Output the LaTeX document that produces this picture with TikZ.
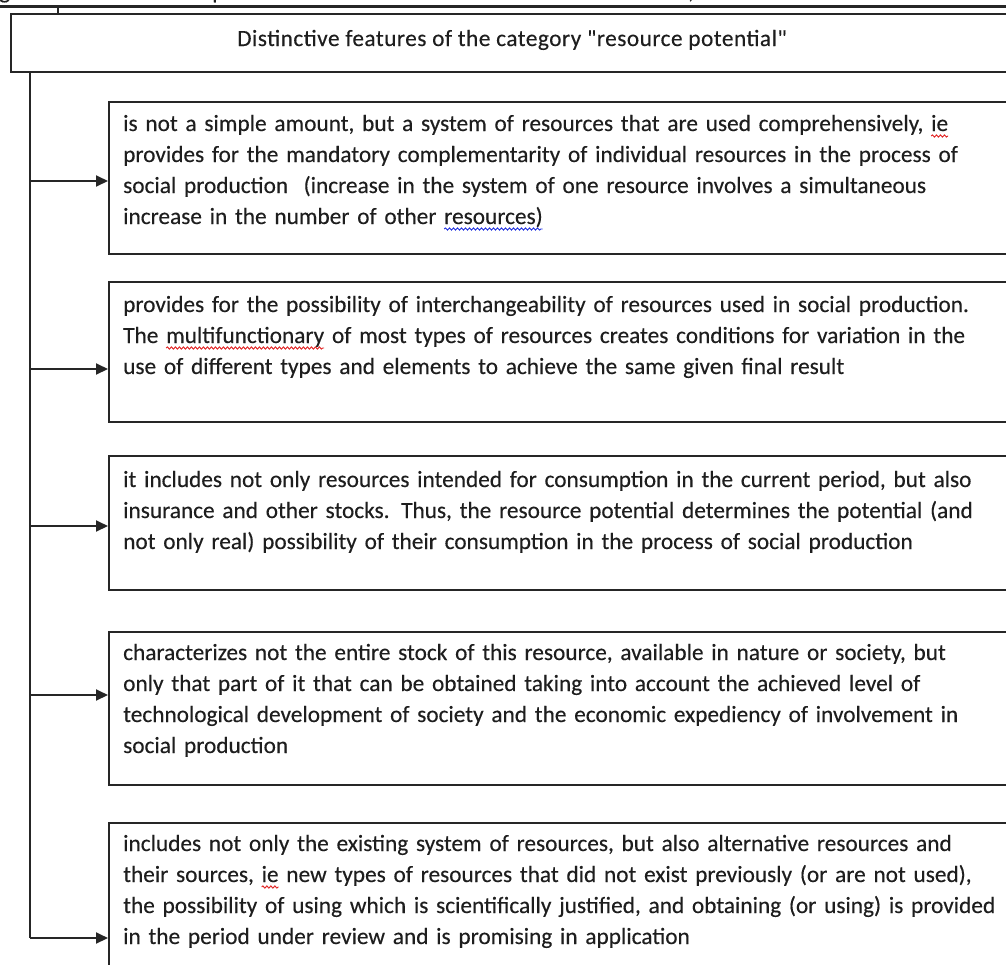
\documentclass[tikz,border=0pt]{standalone}
\usepackage{fontspec}
\setmainfont{Carlito}[Ligatures=TeXOff, FakeBold=0.3]
\usetikzlibrary{arrows.meta,decorations.pathmorphing}

% wavy proof-reading underline in a given colour
\newsavebox\markbox
\newlength\markwd
\newcommand\spellmark[2]{%
  \sbox\markbox{#2}\setlength\markwd{\wd\markbox}%
  \rlap{\tikz[baseline=0pt,x=1pt,y=1pt]{%
    \useasboundingbox (0,0) rectangle (0.01,0.01);
    \draw[#1, line width=0.9pt, decorate,
          decoration={snake, amplitude=1.1pt, segment length=4pt}]
      (0,-5) -- (\markwd,-5);}}%
  \usebox\markbox}

\definecolor{linec}{HTML}{262626}
\definecolor{textc}{HTML}{1E1E1E}
\definecolor{wavered}{HTML}{E02020}
\definecolor{waveblue}{HTML}{2030E0}

\tikzset{
  box/.style={draw=linec, line width=2pt, rectangle, inner sep=0pt,
              anchor=north west, minimum width=904pt},
  body/.style={font=\fontsize{23.3}{31}\selectfont, text=textc},
  txt/.style={body, anchor=base west, text width=960pt, align=left, inner sep=0pt},
  trunk/.style={draw=linec, line width=2pt},
  feed/.style={draw=linec, line width=2pt, -{Triangle[length=12pt,width=11pt]}}
}

\begin{document}
\begin{tikzpicture}[x=1pt, y=-1pt]
\useasboundingbox (0,0) rectangle (1006,964);

% rule and descenders of the line above
\draw[draw=linec, line width=3pt] (-5,6.5) -- (1011,6.5);
\node[body, anchor=base west, inner sep=0pt] (fragA) at (-1,-1.5) {g};
\node[body, anchor=base west, inner sep=0pt] (fragB) at (212,-1.5) {p};
\node[body, anchor=base west, inner sep=0pt] (fragC) at (688,-1.5) {,};
\coordinate (tickA) at (58,7);
\coordinate (tickB) at (58,14);
\draw[trunk] (tickA) -- (tickB);

% heading
\node[box, minimum width=1002pt, minimum height=58pt] (top) at (10,13) {};
\node[body, anchor=base, inner sep=0pt] (title) at (512,46)
  {\addfontfeature{LetterSpace=2.1}Distinctive features of the category "resource potential"};

% feature boxes
\node[box, minimum height=152pt] (b1) at (108,101) {};
\node[box, minimum height=140pt] (b2) at (108,281) {};
\node[box, minimum height=134pt] (b3) at (108,455) {};
\node[box, minimum height=153pt] (b4) at (108,631) {};
\node[box, minimum height=170pt] (b5) at (108,822) {};

\node[txt] (t1) at (123,131) {is not a simple amount, but a system of resources that are used comprehensively, \spellmark{wavered}{ie}\\
provides for the mandatory complementarity of individual resources in the process of\\
social production\ \ (increase in the system of one resource involves a simultaneous\\
increase in the number of other \spellmark{waveblue}{resources)}};

\node[txt] (t2) at (123,312) {provides for the possibility of interchangeability of resources used in social production.\\
The \spellmark{wavered}{multifunctionary} of most types of resources creates conditions for variation in the\\
use of different types and elements to achieve the same given final result};

\node[txt] (t3) at (123,487) {it includes not only resources intended for consumption in the current period, but also\\
insurance and other stocks. Thus, the resource potential determines the potential (and\\
not only real) possibility of their consumption in the process of social production};

\node[txt] (t4) at (123,660) {characterizes not the entire stock of this resource, available in nature or society, but\\
only that part of it that can be obtained taking into account the achieved level of\\
technological development of society and the economic expediency of involvement in\\
social production};

\node[txt] (t5) at (123,851) {includes not only the existing system of resources, but also alternative resources and\\
their sources, \spellmark{wavered}{ie} new types of resources that did not exist previously (or are not used),\\
the possibility of using which is scientifically justified, and obtaining (or using) is provided\\
in the period under review and is promising in application};

% trunk and branches
\coordinate (j1) at (30,181);
\coordinate (j2) at (30,369);
\coordinate (j3) at (30,526);
\coordinate (j4) at (30,695);
\coordinate (j5) at (30,938);
\draw[trunk] (top.south west -| j1) -- (j5);
\draw[feed] (j1) -- (j1 -| b1.west);
\draw[feed] (j2) -- (j2 -| b2.west);
\draw[feed] (j3) -- (j3 -| b3.west);
\draw[feed] (j4) -- (j4 -| b4.west);
\draw[feed] (j5) -- (j5 -| b5.west);
\end{tikzpicture}
\end{document}
